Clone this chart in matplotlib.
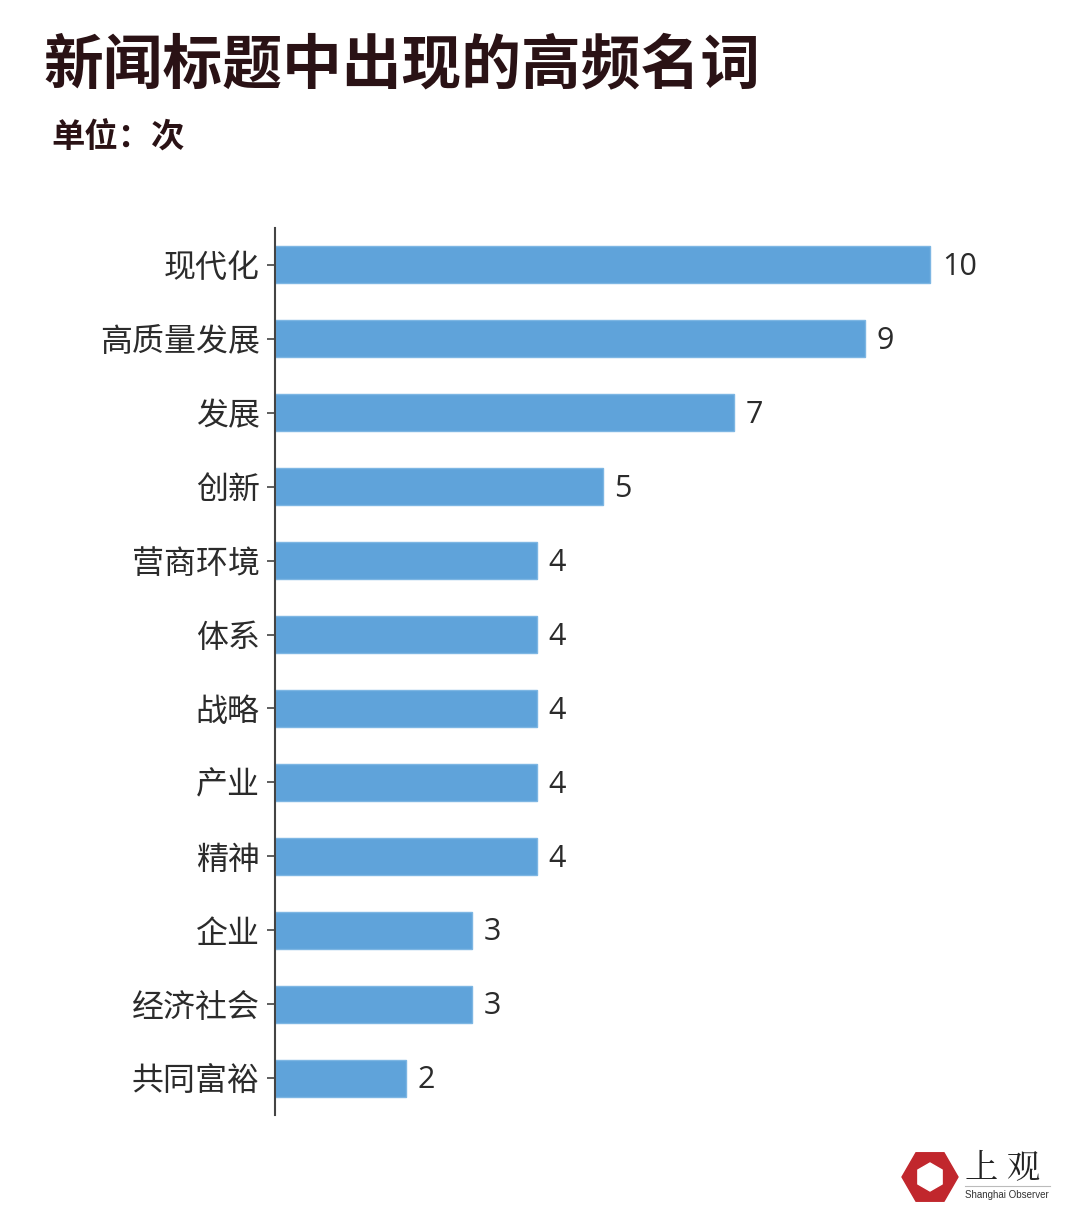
import numpy as np
import matplotlib.pyplot as plt
from matplotlib.patches import RegularPolygon

plt.rcParams['font.family'] = ['Noto Sans CJK SC', 'DejaVu Sans']

terms = ['现代化', '高质量发展', '发展', '创新', '营商环境', '体系',
         '战略', '产业', '精神', '企业', '经济社会', '共同富裕']
counts = [10, 9, 7, 5, 4, 4, 4, 4, 4, 3, 3, 2]

title = '新闻标题中出现的高频名词'
unit = '单位：次'

fig = plt.figure(figsize=(10.77, 12.28), dpi=100)
ax = fig.add_axes([275/1077, 1-1115/1228, 786/1077, (1115-228)/1228])

y = np.arange(len(terms))
ax.barh(y, counts, height=0.5, color='#5fa3da', edgecolor='#7db6e3', linewidth=1)
for yi, c in zip(y, counts):
    ax.text(c + 0.18, yi + 0.03, str(c), va='center', ha='left', fontsize=22, color='#2b2b2b',
            family=['Open Sans', 'DejaVu Sans'])

ax.set_ylim(len(terms) - 0.5, -0.5)
ax.set_xlim(0, 12)
ax.set_yticks(y)
ax.set_yticklabels(terms, fontsize=23, color='#2b2b2b')
ax.tick_params(axis='y', length=6, width=1.2, color='#444444', pad=5)
ax.set_xticks([])
for s in ['top', 'right', 'bottom']:
    ax.spines[s].set_visible(False)
ax.spines['left'].set_color('#444444')
ax.spines['left'].set_linewidth(1.5)

fig.text(43/1077, 1-66/1228, title, fontsize=43, fontweight='black', color='#2a1215',
         va='center', ha='left')
fig.text(51/1077, 1-138/1228, unit, fontsize=24, fontweight='bold', color='#2a1215',
         va='center', ha='left')

# logo
W, H = 1077, 1228
cx, cy = 930, 1177
ax_logo = fig.add_axes([0, 0, 1, 1], zorder=5)
ax_logo.set_xlim(0, W)
ax_logo.set_ylim(H, 0)
ax_logo.axis('off')
ax_logo.add_patch(RegularPolygon((cx, cy), 6, radius=28, orientation=np.pi/6, color='#c1272d'))
ax_logo.add_patch(RegularPolygon((cx, cy), 6, radius=14, orientation=0, color='white'))
ax_logo.text(965, 1168, '上 观', fontsize=24, color='#222222', va='center', ha='left',
             family=['Noto Serif CJK SC', 'Noto Sans CJK SC'])
ax_logo.plot([965, 1050], [1186, 1186], color='#bbbbbb', lw=0.8)
ax_logo.text(965, 1195, 'Shanghai Observer', fontsize=7, color='#333333', va='center',
             ha='left', family=['Liberation Sans'])

fig.savefig('out.png', dpi=100, facecolor='white')
